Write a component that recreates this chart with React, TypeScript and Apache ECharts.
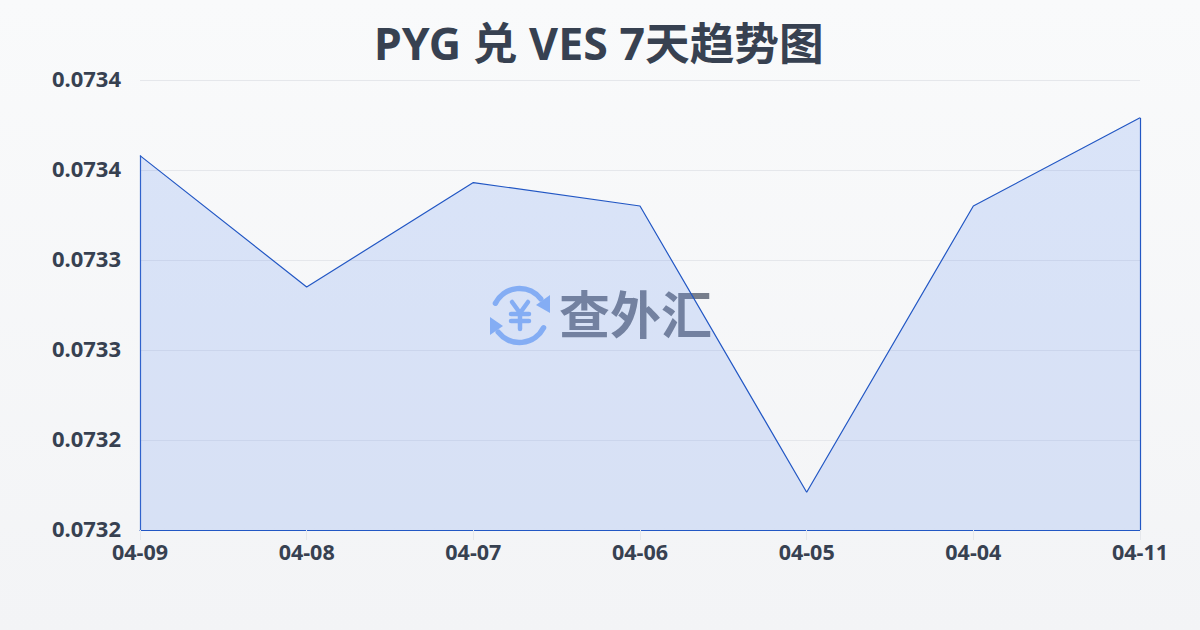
import React, { useEffect, useRef } from "react";
import * as echarts from "echarts";

const categories = ["04-09", "04-08", "04-07", "04-06", "04-05", "04-04", "04-11"];
const rates = [0.073358, 0.073285, 0.073343, 0.07333, 0.073171, 0.07333, 0.073379];
const tickLabels = ["0.0732", "0.0732", "0.0733", "0.0733", "0.0734", "0.0734"];
const axisMin = 0.07315;
const axisMax = 0.0734;
const axisStep = 0.00005;
const titleText = "PYG 兑 VES 7天趋势图";
const watermarkText = "查外汇";

const TITLE_FONT = '"Noto Sans", "Noto Sans CJK SC", sans-serif';
const LABEL_FONT = '"Noto Sans", sans-serif';
const INK = "#374151";
const BLUE = "#2257c4";
const ICON = "#8db5f6";

const deg = (d: number) => (d * Math.PI) / 180;

export default function App() {
  const ref = useRef<HTMLDivElement>(null);
  useEffect(() => {
    const chart = echarts.init(ref.current!, null, { renderer: "svg" });
    const edge = { color: BLUE, width: 1.2, type: "solid" as const };
    const iconStroke = { stroke: ICON, fill: "none", lineWidth: 5.5, lineCap: "round" as const };
    const yenStroke = { stroke: ICON, fill: "none", lineWidth: 4.5, lineCap: "round" as const, lineJoin: "round" as const };
    chart.setOption({
      animation: false,
      backgroundColor: {
        type: "linear", x: 0, y: 0, x2: 0, y2: 1,
        colorStops: [{ offset: 0, color: "#f9fafb" }, { offset: 1, color: "#f3f4f6" }],
      },
      title: {
        text: titleText, left: 369, top: 15,
        textStyle: { fontFamily: TITLE_FONT, fontSize: 44.7, fontWeight: "bold", color: INK },
      },
      grid: { left: 140, right: 60, top: 80, bottom: 100 },
      xAxis: {
        type: "category", data: categories, boundaryGap: false,
        axisLine: { show: true, lineStyle: edge },
        axisTick: { show: true, length: 10, alignWithLabel: true, lineStyle: { color: "#e5e7eb" } },
        axisLabel: { fontFamily: LABEL_FONT, fontSize: 21.5, fontWeight: "bold", color: INK, margin: 10, showMinLabel: true, showMaxLabel: true, interval: 0 },
      },
      yAxis: {
        type: "value", min: axisMin, max: axisMax, interval: axisStep,
        axisLine: { show: false }, axisTick: { show: false },
        splitLine: { show: true, lineStyle: { color: "#e5e7eb", width: 1 } },
        axisLabel: {
          fontFamily: LABEL_FONT, fontSize: 22, fontWeight: "bold", color: INK, margin: 19,
          verticalAlign: "bottom", lineHeight: 4,
          formatter: (_: number, i: number) => tickLabels[i],
        },
      },
      graphic: [
        { type: "arc", z: 5, shape: { cx: 519.5, cy: 315.5, r: 27, startAngle: deg(207), endAngle: deg(322) }, style: iconStroke },
        { type: "arc", z: 5, shape: { cx: 519.5, cy: 315.5, r: 27, startAngle: deg(27), endAngle: deg(142) }, style: iconStroke },
        { type: "polygon", z: 5, shape: { points: [[536, 305], [550, 295], [550, 313]] }, style: { fill: ICON } },
        { type: "polygon", z: 5, shape: { points: [[503, 326], [490, 317], [490, 335]] }, style: { fill: ICON } },
        { type: "polyline", z: 5, shape: { points: [[512, 302], [520, 313], [528, 302]] }, style: yenStroke },
        { type: "line", z: 5, shape: { x1: 511, y1: 314, x2: 529, y2: 314 }, style: yenStroke },
        { type: "line", z: 5, shape: { x1: 511, y1: 321, x2: 529, y2: 321 }, style: yenStroke },
        { type: "line", z: 5, shape: { x1: 520, y1: 313, x2: 520, y2: 329 }, style: yenStroke },
        {
          type: "text", x: 559, y: 286, z: 5,
          style: { text: watermarkText, fontFamily: '"Noto Sans CJK SC", sans-serif', fontSize: 51, fontWeight: "bold", fill: "#777e8c" },
        },
      ],
      series: [{
        type: "line", data: rates, symbol: "none", smooth: false, z: 10,
        lineStyle: { color: BLUE, width: 1.2 },
        areaStyle: { color: "rgba(98,147,238,0.2)", opacity: 1, origin: "start" },
        markLine: {
          silent: true, symbol: "none", label: { show: false }, lineStyle: edge, animation: false,
          data: [
            [{ coord: [0, axisMin] }, { coord: [0, rates[0]] }],
            [{ coord: [categories.length - 1, axisMin] }, { coord: [categories.length - 1, rates[rates.length - 1]] }],
          ],
        },
      }],
    });
    return () => chart.dispose();
  }, []);
  return <div ref={ref} style={{ width: 1200, height: 630, position: "fixed", left: 0, top: 0 }} />;
}
